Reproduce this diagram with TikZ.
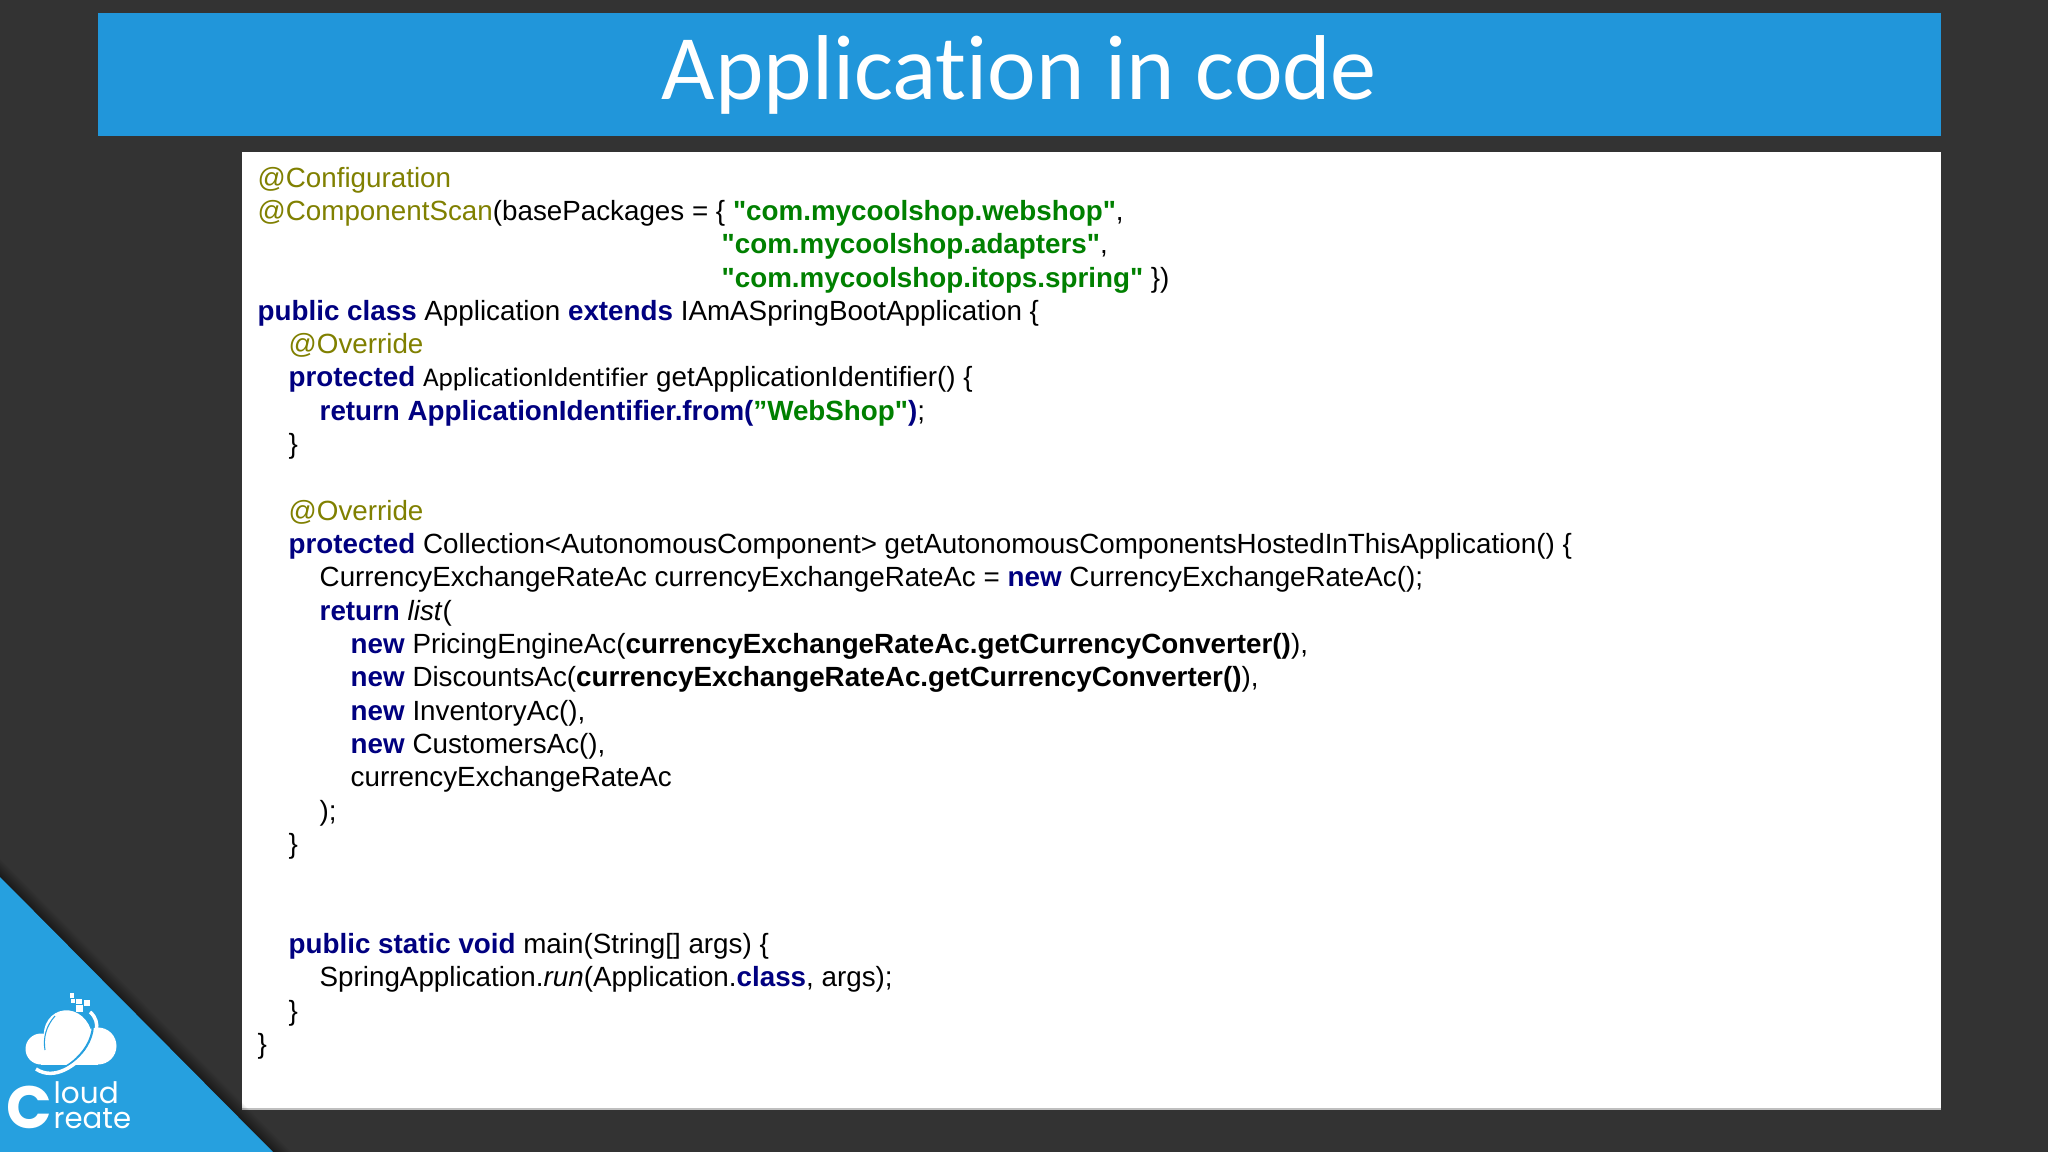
\documentclass[tikz,border=0pt]{standalone}
\usepackage{fontspec}
\setmainfont[Ligatures=TeXOff]{Liberation Sans}
\newfontfamily\titlefont[Ligatures=NoCommon]{Carlito}
\newfontfamily\logofont{Poppins}

\definecolor{slidebg}{HTML}{333333}
\definecolor{slideblue}{HTML}{2196DA}
\definecolor{cornerblue}{HTML}{26A0DF}
\definecolor{kwblue}{HTML}{000080}
\definecolor{annolive}{HTML}{808000}
\definecolor{strgreen}{HTML}{008000}

\newcommand{\kw}[1]{\textcolor{kwblue}{\textbf{#1}}}
\newcommand{\ann}[1]{\textcolor{annolive}{#1}}
\newcommand{\strg}[1]{\textcolor{strgreen}{\textbf{#1}}}

\tikzset{
    codeline/.style={anchor=base west, inner sep=0pt, text=black, font=\fontsize{7.9}{9}\selectfont},
    titletext/.style={anchor=base, inner sep=0pt, text=white, font=\titlefont\fontsize{26.2}{30}\selectfont},
    logotext/.style={anchor=base west, inner sep=0pt, text=white}
}

\begin{document}
\begin{tikzpicture}[x=0.01cm, y=-0.01cm]

    \useasboundingbox (0, 0) rectangle (2048, 1152);
    \fill[slidebg] (0, 0) rectangle (2048, 1152);

    % title bar
    \fill[slideblue] (98, 13) rectangle (1941, 136);
    \node[titletext] (title) at (1019.5, 99.5) {Application in code};

    % code panel
    \fill[white] (242, 152) rectangle (1941, 1109);
    \draw[lightgray, line width=0.3pt] (242, 1109) -- (1941, 1109);

    \node[codeline] (line0) at (257, 188) {\ann{@Configuration}};
    \node[codeline] (line1) at (257, 221) {\ann{@ComponentScan}(basePackages = \{ \strg{"com.mycoolshop.webshop"},};
    \node[codeline] (line2) at (721, 254) {\strg{"com.mycoolshop.adapters"},};
    \node[codeline] (line3) at (721, 288) {\strg{"com.mycoolshop.itops.spring"} \})};
    \node[codeline] (line4) at (257, 321) {\kw{public class} Application \kw{extends} IAmASpringBootApplication \{};
    \node[codeline] (line5) at (288, 354) {\ann{@Override}};
    \node[codeline] (line6) at (288, 387) {\kw{protected} {\titlefont\fontsize{7.7}{9}\selectfont ApplicationIdentifier} getApplicationIdentifier() \{};
    \node[codeline] (line7) at (319, 421) {\kw{return ApplicationIdentifier.from(}\strg{”WebShop"}\kw{)};};
    \node[codeline] (line8) at (288, 454) {\}};

    \node[codeline] (line10) at (288, 521) {\ann{@Override}};
    \node[codeline] (line11) at (288, 554) {\kw{protected} Collection<AutonomousComponent> getAutonomousComponentsHostedInThisApplication() \{};
    \node[codeline] (line12) at (319, 587) {CurrencyExchangeRateAc currencyExchangeRateAc = \kw{new} CurrencyExchangeRateAc();};
    \node[codeline] (line13) at (319, 620) {\kw{return} \textit{list}(};
    \node[codeline] (line14) at (350, 653) {\kw{new} PricingEngineAc(\textbf{currencyExchangeRateAc.getCurrencyConverter()}),};
    \node[codeline] (line15) at (350, 686) {\kw{new} DiscountsAc(\textbf{currencyExchangeRateAc.getCurrencyConverter()}),};
    \node[codeline] (line16) at (350, 720) {\kw{new} InventoryAc(),};
    \node[codeline] (line17) at (350, 753) {\kw{new} CustomersAc(),};
    \node[codeline] (line18) at (350, 786) {currencyExchangeRateAc};
    \node[codeline] (line19) at (319, 820) {);};
    \node[codeline] (line20) at (288, 853) {\}};

    \node[codeline] (line23) at (288, 953) {\kw{public static void} main(String[] args) \{};
    \node[codeline] (line24) at (319, 986) {SpringApplication.\textit{run}(Application.\kw{class}, args);};
    \node[codeline] (line25) at (288, 1020) {\}};
    \node[codeline] (line26) at (257, 1053) {\}};

    % corner with its shadow
    \foreach \d in {1, 2, 3, 4, 5, 6, 7, 8, 9, 10, 11, 12}
        \fill[black, opacity=0.04] (0, 877 - 1.5*\d) -- (273 + 1.5*\d, 1152) -- (0, 1152) -- cycle;
    \fill[cornerblue] (0, 877) -- (273, 1152) -- (0, 1152) -- cycle;

    % logo
    \fill[white] (41, 1049) circle (15.5);
    \fill[white] (98, 1046) circle (18.5);
    \fill[white] (41, 1045) rectangle (98, 1064.5);
    \fill[white, rotate around={18:(68, 1037)}] (68, 1037) ellipse (24 and 27);
    \draw[cornerblue, line width=0.6pt] (33, 1066) .. controls (52, 1079) and (72, 1066) .. (84, 1050)
        .. controls (92, 1039) and (96, 1024) .. (90, 1014);
    \draw[white, line width=1pt] (36, 1069) .. controls (54, 1081) and (76, 1066) .. (88, 1050)
        .. controls (96, 1038) and (102, 1022) .. (90, 1012);
    \draw[cornerblue, line width=0.3pt] (45, 1050) .. controls (43, 1038) and (46, 1026) .. (55, 1016);
    \fill[white] (70, 993) rectangle (74, 998);
    \fill[white] (71, 999) rectangle (75, 1003);
    \fill[white] (76, 999) rectangle (82, 1004);
    \fill[white] (84, 1000) rectangle (90, 1006);
    \fill[white] (76, 1005) rectangle (83, 1012);

    \node[logotext, font=\logofont\bfseries\fontsize{17}{20}\selectfont] (logoc) at (6, 1128) {C};
    \node[logotext, font=\logofont\fontsize{8.4}{10}\selectfont] (logoloud) at (53, 1103) {loud};
    \node[logotext, font=\logofont\fontsize{8.3}{10}\selectfont] (logoreate) at (53, 1128) {reate};

\end{tikzpicture}
\end{document}
